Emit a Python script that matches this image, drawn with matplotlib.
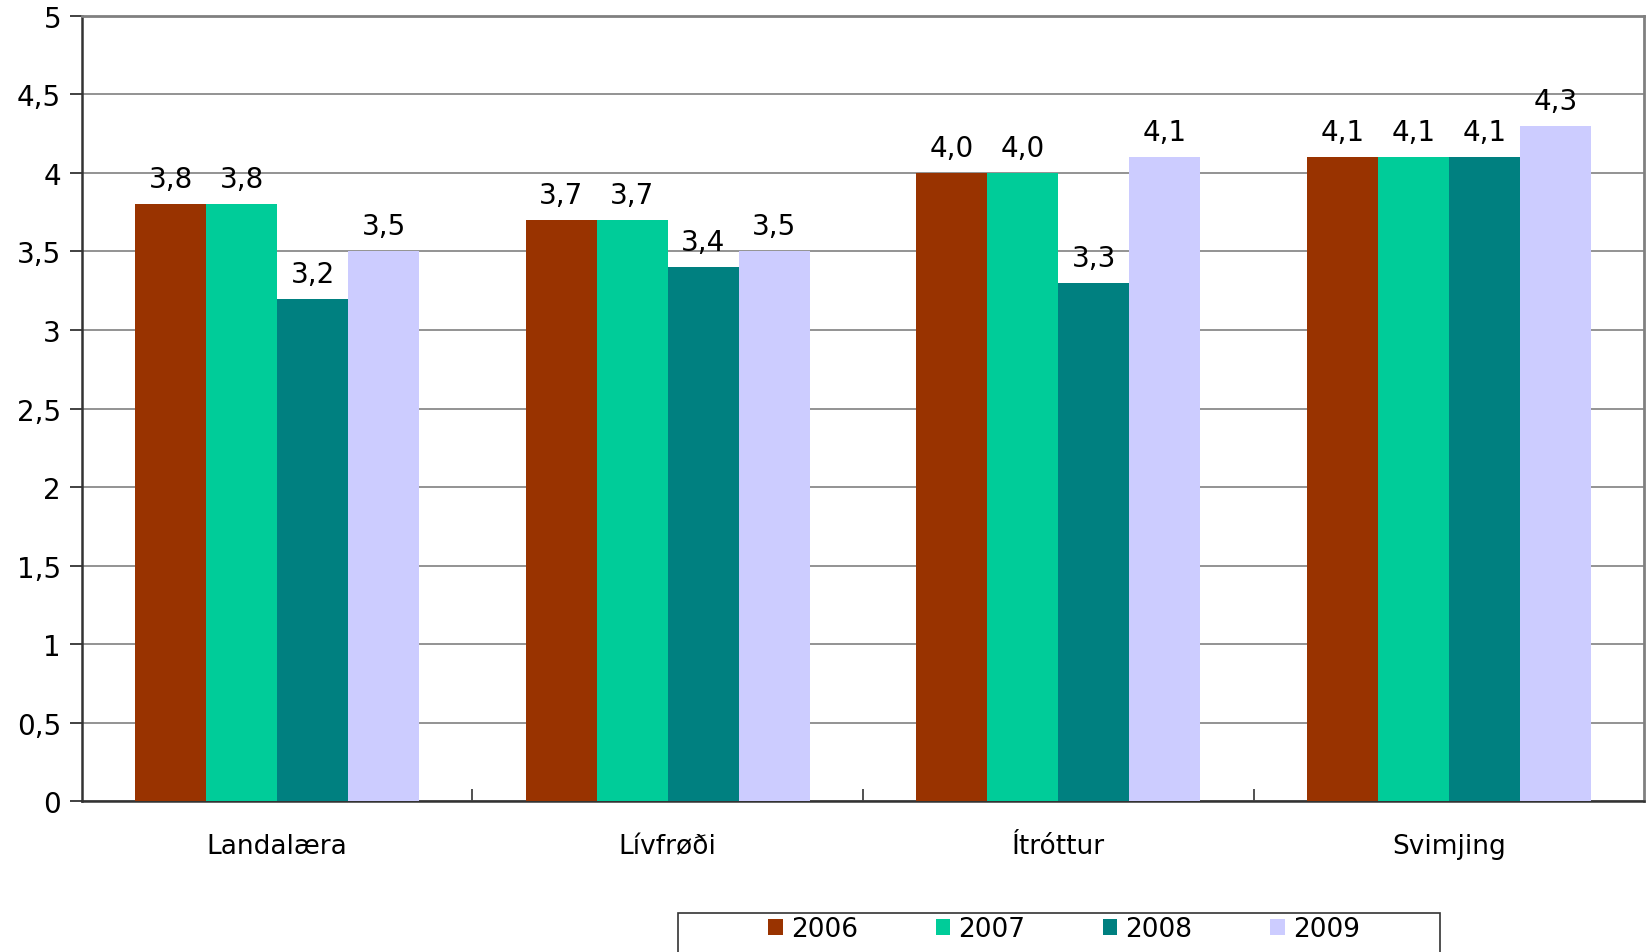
import numpy as np
import matplotlib
matplotlib.use("Agg")
import matplotlib.pyplot as plt
from matplotlib.patches import Rectangle

# data
categories = ["Landalæra", "Lívfrøði", "Ítróttur", "Svimjing"]
years = ["2006", "2007", "2008", "2009"]
v2006 = [3.8, 3.7, 4.0, 4.1]
v2007 = [3.8, 3.7, 4.0, 4.1]
v2008 = [3.2, 3.4, 3.3, 4.1]
v2009 = [3.5, 3.5, 4.1, 4.3]
colors = ["#993300", "#00CC99", "#008080", "#CCCCFF"]
yticks = [0, 0.5, 1, 1.5, 2, 2.5, 3, 3.5, 4, 4.5, 5]

plt.rcParams['font.family'] = ['DejaVu Sans']

fig = plt.figure(figsize=(16.52, 9.53), dpi=100)
ax = fig.add_axes([0.0496, 0.1584, 0.9456, 0.8238])

x = np.arange(len(categories))
width = 0.182
series = [v2006, v2007, v2008, v2009]
for i, (vals, col, yr) in enumerate(zip(series, colors, years)):
    pos = x + (i - 1.5) * width
    bars = ax.bar(pos, vals, width=width, color=col, label=yr, zorder=3)
    for b, v in zip(bars, vals):
        ax.text(b.get_x() + b.get_width() / 2, v + 0.07, f"{v:.1f}".replace(".", ","),
                ha="center", va="bottom", fontsize=20, zorder=4)

ax.set_xlim(-0.5, 3.5)
ax.set_ylim(0, 5)
ax.set_yticks(yticks)
ax.set_yticklabels([f"{t:g}".replace(".", ",") for t in yticks], fontsize=20)
ax.yaxis.grid(True, color="#808080", linewidth=1.2, zorder=0)
ax.tick_params(axis="y", direction="out", length=9, width=1.3, color="#333333", pad=6)

ax.set_xticks(x)
ax.set_xticklabels(categories, fontsize=19)
ax.tick_params(axis="x", length=0, pad=23)
ax.set_xticks(np.arange(0.5, 3.5, 1), minor=True)
ax.tick_params(axis="x", which="minor", direction="in", length=9, width=1.2, color="#333333")

for s in ["left", "bottom"]:
    ax.spines[s].set_color("#333333")
    ax.spines[s].set_linewidth(1.8)
for s in ["top", "right"]:
    ax.spines[s].set_color("#808080")
    ax.spines[s].set_linewidth(2)

# legend box running off the bottom edge
fig.patches.append(Rectangle((678 / 1652, -0.05), 762 / 1652, 0.05 + 39 / 953,
                             transform=fig.transFigure, fill=False,
                             edgecolor="#333333", linewidth=1.2))
leg = fig.legend(loc="center", bbox_to_anchor=(1064 / 1652, 1 - 930 / 953), ncol=4,
                 frameon=False, fontsize=19, handlelength=0.55, handleheight=0.55,
                 handletextpad=0.3, columnspacing=2.95)

fig.savefig("out.png", dpi=100)
